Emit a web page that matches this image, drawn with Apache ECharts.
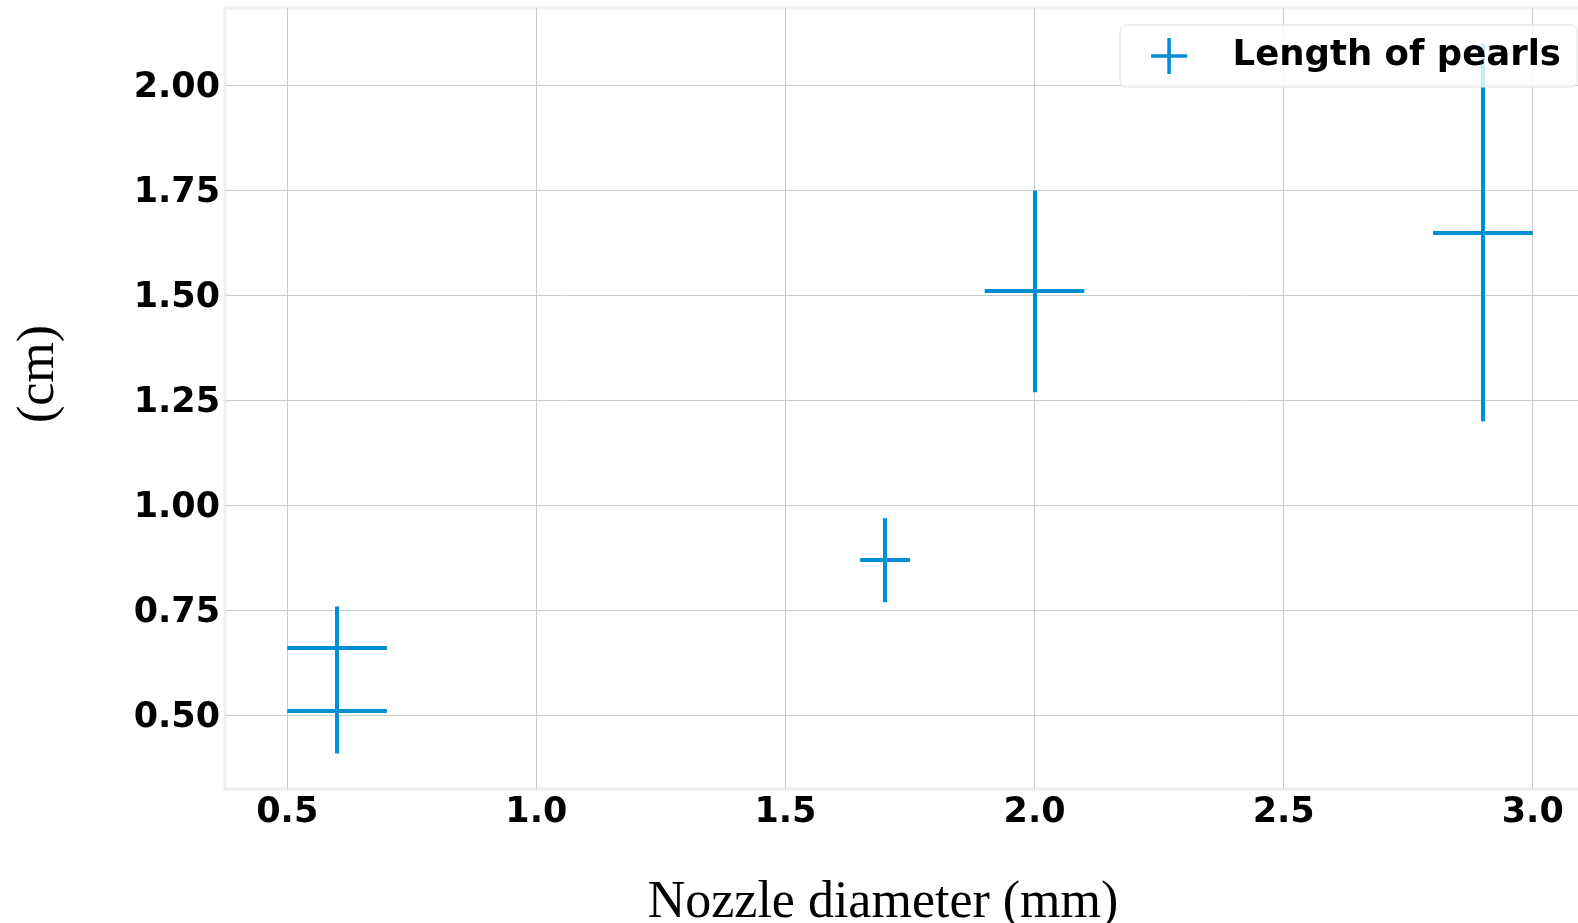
<!DOCTYPE html>
<html>
<head>
<meta charset="utf-8">
<title>Length of pearls vs nozzle diameter</title>
<script src="https://cdn.jsdelivr.net/npm/echarts@6/dist/echarts.min.js"></script>
<style>
  html, body { margin: 0; padding: 0; background: #ffffff; }
  #chart { width: 1578px; height: 923px; }
</style>
</head>
<body>
<div id="chart"></div>
<script>
// Measurements: nozzle diameter (mm) against pearl length (cm), with error in both directions
const nozzleDiameter = [0.6, 0.6, 1.7, 2.0, 2.9];
const pearlLength    = [0.66, 0.51, 0.87, 1.51, 1.65];
const diameterErr    = [0.1, 0.1, 0.05, 0.1, 0.1];
const lengthErr      = [0.1, 0.1, 0.1, 0.24, 0.45];

const xTicks = [0.5, 1.0, 1.5, 2.0, 2.5, 3.0];
const yTicks = [0.5, 0.75, 1.0, 1.25, 1.5, 1.75, 2.0];

const seriesName = 'Length of pearls';
const barColor = '#008fd5';

const rows = nozzleDiameter.map((x, i) => [x, pearlLength[i], diameterErr[i], lengthErr[i]]);

// "+" shaped legend icon
const plusIcon = 'path://M0,45 L45,45 L45,0 L55,0 L55,45 L100,45 L100,55 L55,55 L55,100 L45,100 L45,55 L0,55 Z';

const tickFont = { fontSize: 35, fontWeight: 'bold', fontFamily: 'DejaVu Sans', color: '#000' };
const titleFont = '52px "Liberation Serif"';

// Snap to the pixel grid so overlapping bars render crisply (4px wide strokes)
const snap = v => Math.round(v);

function renderCross(params, api) {
  const x = api.value(0), y = api.value(1), dx = api.value(2), dy = api.value(3);
  const l = api.coord([x - dx, y]);
  const r = api.coord([x + dx, y]);
  const t = api.coord([x, y + dy]);
  const b = api.coord([x, y - dy]);
  const cx = snap(t[0]), cy = snap(l[1]);
  const style = { stroke: barColor, lineWidth: 4, lineCap: 'butt' };
  return {
    type: 'group',
    children: [
      { type: 'line', shape: { x1: l[0], y1: cy, x2: r[0], y2: cy }, style: style },
      { type: 'line', shape: { x1: cx, y1: t[1], x2: cx, y2: b[1] }, style: style }
    ]
  };
}

const chart = echarts.init(document.getElementById('chart'), null, { renderer: 'canvas' });

chart.setOption({
  animation: false,
  backgroundColor: '#ffffff',
  grid: {
    left: 225, top: 8, width: 1370, height: 781,
    outerBoundsMode: 'none',
    containLabel: false,
    show: true, backgroundColor: '#ffffff',
    borderColor: '#f0f0f0', borderWidth: 3
  },
  xAxis: {
    type: 'value', min: 0.375, max: 3.125,
    axisLine: { show: false },
    axisTick: { show: false, customValues: xTicks },
    splitLine: { show: true, lineStyle: { color: '#cbcbcb', width: 1 } },
    axisLabel: Object.assign({ customValues: xTicks, margin: 6, formatter: v => v.toFixed(1) }, tickFont)
  },
  yAxis: {
    type: 'value', min: 0.3255, max: 2.1845,
    axisLine: { show: false },
    axisTick: { show: false, customValues: yTicks },
    splitLine: { show: true, lineStyle: { color: '#cbcbcb', width: 1 } },
    axisLabel: Object.assign({
      customValues: yTicks, margin: 5,
      formatter: v => '{v|' + v.toFixed(2) + '}',
      rich: { v: Object.assign({ padding: [5, 0, 0, 0] }, tickFont) }
    }, tickFont)
  },
  legend: {
    right: 1, top: 25,
    z: 10,
    selectedMode: false,
    padding: [13, 16, 13, 31],
    itemWidth: 37, itemHeight: 36,
    backgroundColor: 'rgba(255,255,255,0.8)',
    borderColor: '#e2e2e2', borderWidth: 1, borderRadius: 6,
    textStyle: { fontSize: 35.5, fontWeight: 'bold', fontFamily: 'DejaVu Sans', color: '#000', lineHeight: 36, padding: [0, 0, 0, 40] },
    data: [{ name: seriesName, icon: plusIcon }]
  },
  graphic: [
    {
      type: 'text', x: 883, y: 903, z: 5,
      style: { text: 'Nozzle diameter (mm)', font: titleFont, fill: '#000', textAlign: 'center', textVerticalAlign: 'middle' }
    },
    {
      type: 'text', x: 39, y: 374, rotation: Math.PI / 2, z: 5,
      style: { text: '(cm)', font: titleFont, fill: '#000', textAlign: 'center', textVerticalAlign: 'middle' }
    }
  ],
  series: [{
    name: seriesName,
    type: 'custom',
    renderItem: renderCross,
    itemStyle: { color: barColor },
    encode: { x: 0, y: 1 },
    data: rows,
    z: 3
  }]
});
</script>
</body>
</html>
